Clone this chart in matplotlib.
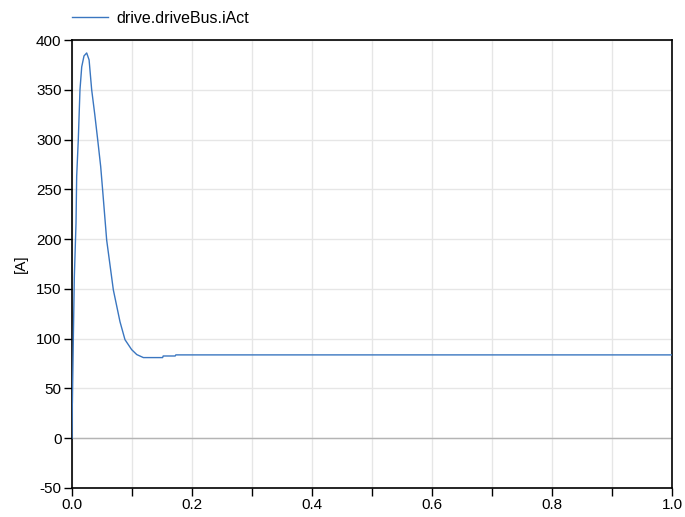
import matplotlib
matplotlib.use("Agg")
import matplotlib.pyplot as plt
from matplotlib.ticker import MultipleLocator

# datos (tiempo [s], corriente [A])
tiempo = [0.0, 0.0005, 0.0006, 0.0022, 0.0039, 0.0067, 0.0078, 0.0105, 0.0133,
          0.0162, 0.0200, 0.0245, 0.0285, 0.0328, 0.0380, 0.0428, 0.0478,
          0.0511, 0.0578, 0.0689, 0.0800, 0.0883, 0.0994, 0.108, 0.119,
          0.151, 0.152, 0.172, 0.173, 1.0]
corriente = [0.0, 35.0, 35.0, 99.0, 162.0, 216.0, 263.0, 300.0, 350.0,
             373.0, 384.0, 387.0, 380.0, 350.0, 325.0, 300.0, 273.0,
             249.0, 199.0, 149.0, 117.0, 99.0, 89.0, 84.0, 81.0,
             81.0, 82.6, 82.6, 83.7, 83.7]
nombre_serie = "drive.driveBus.iAct"

plt.rcParams['font.family'] = ['Liberation Sans', 'DejaVu Sans']
plt.rcParams['axes.unicode_minus'] = False

fig = plt.figure(figsize=(6.85, 5.17), dpi=100)
ax = fig.add_axes([0.1051, 0.0561, 0.876, 0.8665])

ax.plot(tiempo, corriente, color="#3a76c0", linewidth=1.0, label=nombre_serie, zorder=3)
ax.axhline(0, color="#b4b4b4", linewidth=1.0, zorder=2)

ax.set_xlim(0, 1.0)
ax.set_ylim(-50, 400)
ax.xaxis.set_major_locator(MultipleLocator(0.2))
ax.xaxis.set_minor_locator(MultipleLocator(0.1))
ax.yaxis.set_major_locator(MultipleLocator(50))
ax.xaxis.set_major_formatter(plt.FormatStrFormatter("%.1f"))

ax.grid(True, which="both", color="#e6e6e6", linewidth=1.0, zorder=1)
ax.set_axisbelow(True)
ax.tick_params(axis="both", which="major", direction="out", length=5.5, width=1,
               labelsize=11, colors="black", pad=2)
ax.tick_params(axis="x", which="minor", direction="out", length=5.5, width=1)

for lado in ["left", "bottom", "top", "right"]:
    ax.spines[lado].set_color("black")
    ax.spines[lado].set_linewidth(1.2)

ax.set_ylabel("[A]", fontsize=11, labelpad=6)

ax.legend(loc="center left", bbox_to_anchor=(0.0, 1.049), frameon=False,
          fontsize=11.5, handlelength=2.25, handletextpad=0.5,
          borderpad=0, borderaxespad=0)

fig.savefig("out.png", dpi=100)
